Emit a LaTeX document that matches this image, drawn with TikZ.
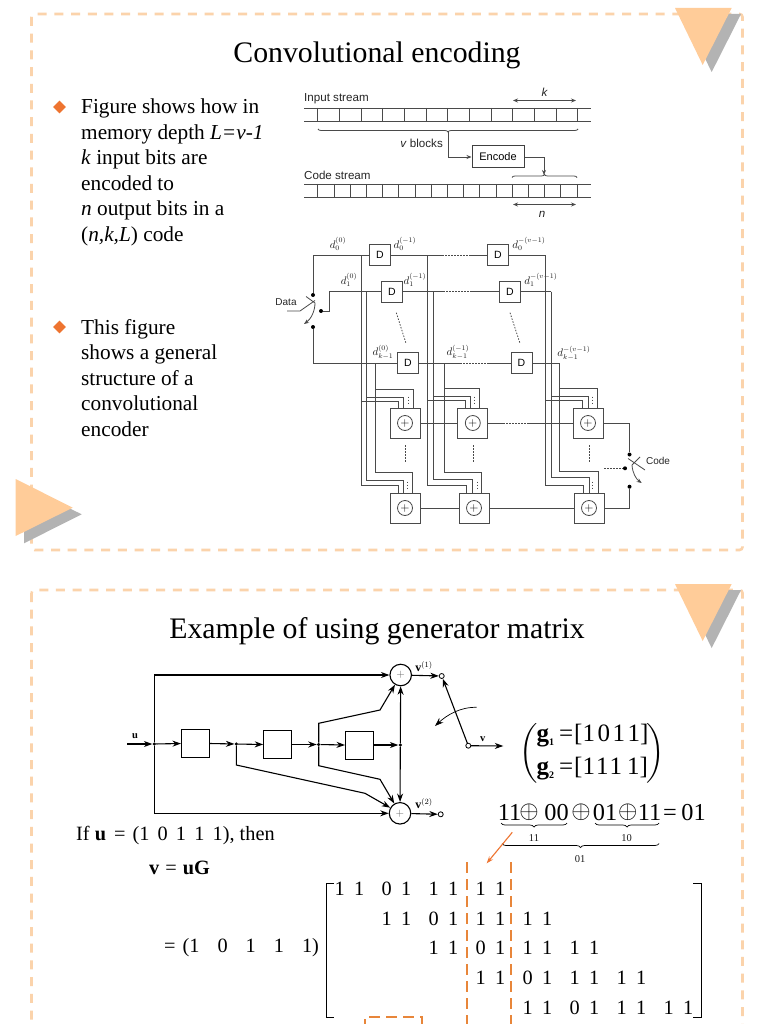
\documentclass[tikz,border=0pt]{standalone}
\usepackage{amsmath}
\usepackage{fontspec}
\setmainfont{Liberation Serif}
\setsansfont{Liberation Sans}
\usetikzlibrary{
  arrows.meta,
  decorations.pathreplacing,
  shapes.geometric
}
\definecolor{framepeach}{HTML}{FBD3AB}
\definecolor{trianglepeach}{HTML}{FFCC99}
\definecolor{shadowgrey}{HTML}{B3B3B3}
\definecolor{markorange}{HTML}{EE7430}
\definecolor{dashorange}{HTML}{E8863A}
\definecolor{wiregrey}{HTML}{4A4A4A}
\newcommand{\fsize}[1]{\fontsize{#1}{#1}\selectfont}
\newcommand{\bitpair}[2]{#1\hspace{9.4pt}#2}
\newcommand{\subnum}[1]{\raisebox{-3.5pt}{\fsize{10}#1}}
\newcommand{\xorsign}{\raisebox{2pt}{$\oplus$}}
\tikzset{
  slide frame/.style={
    draw=framepeach,
    line width=2.6pt,
    rounded corners=3pt,
    dash pattern=on 9pt off 7.7pt
  },
  slide title/.style={
    font=\fsize{29.8}
  },
  bullet mark/.style={
    diamond,
    fill=markorange,
    inner sep=0pt,
    minimum size=13pt
  },
  bullet text/.style={
    anchor=north west,
    align=left,
    inner sep=0pt,
    font=\fontsize{21.3}{25.5}\selectfont
  },
  wire/.style={
    draw=wiregrey,
    line width=0.8pt
  },
  wire arrow/.style={
    wire,
    -{Stealth[length=5pt,width=4pt]}
  },
  wire both/.style={
    wire,
    {Stealth[length=5pt,width=4pt]}-{Stealth[length=5pt,width=4pt]}
  },
  wire dots/.style={
    draw=wiregrey,
    line width=0.8pt,
    dash pattern=on 1.5pt off 1.5pt
  },
  sans label/.style={
    font=\sffamily\fsize{10},
    text=black!85,
    inner sep=0pt
  },
  stream label/.style={
    font=\sffamily\fsize{11.6},
    text=black!85,
    inner sep=0pt
  },
  bit label/.style={
    font=\fsize{10.5},
    text=black!90,
    inner sep=0pt
  },
  delay box/.style={
    draw=wiregrey,
    line width=0.9pt,
    fill=white,
    minimum size=21pt,
    inner sep=0pt,
    font=\sffamily\fsize{10.5}
  },
  adder box/.style={
    draw=wiregrey,
    line width=0.9pt,
    fill=white,
    minimum size=30pt,
    inner sep=0pt
  },
  adder ring/.style={
    circle,
    draw=wiregrey,
    line width=0.8pt,
    minimum size=15pt,
    inner sep=0pt,
    font=\sffamily\fsize{12}
  },
  switch dot/.style={
    circle,
    fill=black,
    minimum size=4pt,
    inner sep=0pt
  },
  line tip/.style={
    draw=black,
    line width=1.1pt,
    -{Stealth[length=8.5pt,width=6pt]}
  },
  plain line/.style={
    draw=black,
    line width=0.9pt
  },
  reg box/.style={
    draw=black,
    line width=1pt,
    minimum size=28pt,
    inner sep=0pt
  },
  sum ring/.style={
    circle,
    draw=black,
    line width=1.1pt,
    minimum size=21.5pt,
    inner sep=0pt,
    text=black!60,
    font=\fsize{11}
  },
  open end/.style={
    circle,
    draw=black,
    fill=white,
    line width=0.8pt,
    minimum size=5pt,
    inner sep=0pt
  },
  math text/.style={
    font=\fsize{20.3},
    inner sep=0pt
  },
  matrix entry/.style={
    font=\fsize{20.3},
    inner sep=0pt
  },
  xor token/.style={
    font=\fsize{24.3},
    anchor=base,
    inner sep=0pt
  },
  small tag/.style={
    font=\fsize{12},
    inner sep=0pt
  },
  orange dash/.style={
    draw=dashorange,
    line width=1.5pt,
    dash pattern=on 11pt off 6pt
  }
}

\begin{document}
\begin{tikzpicture}[x=1pt,y=-1pt]

  \clip (0,0) rectangle (768,1024);
  \fill[white] (0,0) rectangle (768,1024);

  % ---------- frames ----------
  \draw[slide frame] (31.5,14) rectangle (742.5,550);
  \draw[slide frame] (31.5,590) rectangle (742.5,1060);

  \fill[shadowgrey] (683,14) -- (741,14) -- (711.7,72) -- cycle;
  \fill[trianglepeach] (675,8) -- (731.7,8) -- (702.7,65) -- cycle;
  \fill[shadowgrey] (24,486) -- (81.7,514.3) -- (24,543.3) -- cycle;
  \fill[trianglepeach] (15.7,479) -- (72.7,507.7) -- (15.7,536) -- cycle;
  \fill[shadowgrey] (683,590) -- (741,590) -- (711.7,648) -- cycle;
  \fill[trianglepeach] (675,584) -- (731.7,584) -- (702.7,641) -- cycle;

  % ---------- slide 1 text ----------
  \node[slide title] (title1) at (377,55) {Convolutional encoding};

  \node[bullet mark] (mark1) at (59.5,107) {};
  \node[bullet text] (text1) at (81,99)
    {Figure shows how in\\
     memory depth \textit{L=v-1}\\
     \textit{k} input bits are\\
     encoded to\\
     \textit{n} output bits in a\\
     (\textit{n,k,L}) code};

  \node[bullet mark] (mark2) at (59.5,327) {};
  \node[bullet text] (text2) at (81,319)
    {This figure\\
     shows a general\\
     structure of a\\
     convolutional\\
     encoder};

  % ---------- streams ----------
  \node[stream label,anchor=west] (inlabel) at (304,98.5) {Input stream};
  \draw[wire] (304,108) -- (591,108);
  \draw[wire] (304,121) -- (591,121);
  \foreach \i in {0,...,12}
    \draw[wire] ({317.7+21.67*\i},108) -- ++(0,13);

  \coordinate (karrowa) at (513,100.5);
  \coordinate (karrowb) at (576,100.5);
  \draw[wire both] (karrowa) -- (karrowb);
  \node[stream label,font=\sffamily\itshape\fsize{11.6}] (klabel) at (544.5,92) {k};

  \draw[wire,decorate,decoration={brace,mirror,amplitude=3pt}]
    (318,129) -- (578,129);
  \coordinate (intip) at (448,132);
  \node[stream label,anchor=east] (blocks) at (443,143) {\textit{v} blocks};

  \node[draw=black!75,line width=1pt,minimum width=52pt,minimum height=22pt,
    inner sep=0pt,font=\sffamily\fsize{11}] (encode) at (498,157) {Encode};
  \coordinate (codetip) at (544,175);
  \draw[wire arrow] (intip) |- (encode.west);
  \draw[wire arrow] (encode.east) -| (codetip);

  \node[stream label,anchor=west] (codelabel) at (304,175.5) {Code stream};
  \draw[wire,decorate,decoration={brace,amplitude=3pt}]
    (512,177.5) -- (577,177.5);
  \draw[wire] (304,184) -- (591,184);
  \draw[wire] (304,197) -- (591,197);
  \foreach \i in {0,...,16}
    \draw[wire] ({317.7+16.2*\i},184) -- ++(0,13);

  \coordinate (narrowa) at (513,204.5);
  \coordinate (narrowb) at (576,204.5);
  \draw[wire both] (narrowa) -- (narrowb);
  \node[stream label,font=\sffamily\itshape\fsize{11.6}] (nlabel) at (542,214) {n};

  % ---------- encoder ----------
  \node[delay box] (D00) at (380,255) {D};
  \node[delay box] (D01) at (498,255) {D};
  \node[delay box] (D10) at (392,291.5) {D};
  \node[delay box] (D11) at (510,291.5) {D};
  \node[delay box] (D20) at (408,363) {D};
  \node[delay box] (D21) at (521.5,363) {D};

  \node[sans label] (Dlabel) at (286,302) {Data};
  \node[switch dot] (sw0) at (313,295) {};
  \node[switch dot] (sw1) at (321,311) {};
  \node[switch dot] (sw2) at (313,327) {};
  \coordinate (dataleft) at (287,311);
  \coordinate (datamid) at (300,311);
  \coordinate (datatip) at (315,300.5);
  \draw[wire] (dataleft) -- (datamid) -- (datatip);
  \draw[wire arrow] (306,296.5) -- (315,303)
    .. controls (315,311) and (311,319) .. (304,324);

  \draw[wire] (sw0) |- (D00.west);
  \draw[wire] (sw1) -- (329,311) |- (D10.west);
  \draw[wire] (sw2) |- (D20.west);

  \coordinate (c1a) at (361,255);
  \coordinate (c1b) at (366.5,291.5);
  \coordinate (c1c) at (375,363);
  \coordinate (c2a) at (427.5,255);
  \coordinate (c2b) at (433.5,291.5);
  \coordinate (c2c) at (444.5,363);
  \coordinate (c3a) at (545.7,255);
  \coordinate (c3b) at (551,291.5);
  \coordinate (c3c) at (559.5,363);

  % rows between the delay boxes
  \draw[wire] (D00.east) -- (442,255);
  \draw[wire dots] (442,255) -- (470,255);
  \draw[wire] (470,255) -- (D01.west);
  \draw[wire] (D10.east) -- (443,291.5);
  \draw[wire dots] (443,291.5) -- (470,291.5);
  \draw[wire] (470,291.5) -- (D11.west);
  \draw[wire] (D20.east) -- (460,363);
  \draw[wire dots] (460,363) -- (487,363);
  \draw[wire] (487,363) -- (D21.west);
  \draw[wire] (D01.east) -- (c3a);
  \draw[wire] (D11.east) -- (c3b);
  \draw[wire] (D21.east) -- (c3c);

  \draw[wire dots] (396.3,312.7) -- (406,343.3);
  \draw[wire dots] (510,312.7) -- (520,343.3);

  \node[bit label] (la00) at (338,244) {$d_0^{(0)}$};
  \node[bit label] (la01) at (405,244) {$d_0^{(-1)}$};
  \node[bit label] (la02) at (529,244) {$d_0^{-(v-1)}$};
  \node[bit label] (la10) at (349,280) {$d_1^{(0)}$};
  \node[bit label] (la11) at (415,280) {$d_1^{(-1)}$};
  \node[bit label] (la12) at (541,280) {$d_1^{-(v-1)}$};
  \node[bit label] (la20) at (383,352) {$d_{k-1}^{(0)}$};
  \node[bit label] (la21) at (458,352) {$d_{k-1}^{(-1)}$};
  \node[bit label] (la22) at (574,353) {$d_{k-1}^{-(v-1)}$};

  % adders
  \node[adder box] (A11) at (405,423) {};
  \node[adder box] (A12) at (472.8,423) {};
  \node[adder box] (A13) at (588,423) {};
  \node[adder box] (A21) at (405,508) {};
  \node[adder box] (A22) at (474,508) {};
  \node[adder box] (A23) at (589,508) {};
  \foreach \adder in {A11,A12,A13,A21,A22,A23}
    \node[adder ring] (\adder ring) at (\adder) {$+$};

  % taps from the buses
  \foreach \adder/\a/\b/\c/\ya/\yb/\yc/\xa/\xb/\xc/\xd in {
    A11/c1a/c1b/c1c/401.7/397/389.3/-6.7/-1.7/8/3,
    A12/c2a/c2b/c2c/400.7/396.7/388.3/-7.8/-2.1/6.5/2,
    A13/c3a/c3b/c3c/400.7/396/388.3/-5.7/0.3/9.3/4.3,
    A21/c1a/c1b/c1c/485.3/480/472.7/-6.7/-1.7/7.7/2.5,
    A22/c2a/c2b/c2c/485/479.3/472.7/-7.3/-1.3/7.7/3,
    A23/c3a/c3b/c3c/485/477.7/471.7/-5.7/0.3/9.3/3.3}
  {
    \draw[wire] (\a) |- ([xshift=\xa pt]\adder.north |- 0,\ya) -- ([xshift=\xa pt]\adder.north);
    \draw[wire] (\b) |- ([xshift=\xb pt]\adder.north |- 0,\yb) -- ([xshift=\xb pt]\adder.north);
    \draw[wire] (\c) |- ([xshift=\xc pt]\adder.north |- 0,\yc) -- ([xshift=\xc pt]\adder.north);
    \draw[wire dots] ([xshift=\xd pt,yshift=11pt]\adder.north) -- ([xshift=\xd pt,yshift=2pt]\adder.north);
  }

  \draw[wire] (A11.east) -- (A12.west);
  \draw[wire] (A12.east) -- (503,423);
  \draw[wire dots] (503,423) -- (528,423);
  \draw[wire] (528,423) -- (A13.west);
  \draw[wire] (A21.east) -- (A22.west);
  \draw[wire] (A22.east) -- (A23.west);

  \foreach \x in {405.7,473,589}
    \draw[wire dots] (\x,445) -- (\x,463);

  % output switch
  \node[switch dot] (sw3) at (629.5,454.5) {};
  \node[switch dot] (sw4) at (625,468.3) {};
  \node[switch dot] (sw5) at (629.5,486.7) {};
  \draw[wire] (A13.east) -| (sw3);
  \draw[wire] (A23.east) -| (sw5);
  \draw[wire dots] (604,468.3) -- (sw4);
  \coordinate (codeend) at (645,470);
  \draw[wire] (codeend) -- (628,458.5);
  \draw[wire] (640,457) -- (632,465);
  \draw[wire arrow] (632,465) .. controls (632.5,473) and (636,479) .. (641.7,483);
  \node[sans label] (Clabel) at (658,461) {Code};

  % ---------- slide 2 ----------
  \node[slide title] (title2) at (377,631) {Example of using generator matrix};

  \node[sum ring] (add1) at (400.7,675) {$+$};
  \node[sum ring] (add2) at (400,813.3) {$+$};
  \node[reg box] (reg1) at (195.5,743.5) {};
  \node[reg box] (reg2) at (277.7,744.5) {};
  \node[reg box] (reg3) at (359.5,745) {};
  \node[switch dot,minimum size=3.5pt] (j0) at (154.3,744) {};
  \node[switch dot,minimum size=3.5pt] (j1) at (236.3,744) {};
  \node[switch dot,minimum size=3.5pt] (j2) at (318.7,744.5) {};
  \node[switch dot,minimum size=3.5pt] (j3) at (400.3,745) {};
  \node[open end] (out1) at (441.7,676) {};
  \node[open end] (out2) at (440.7,814.3) {};
  \node[open end] (swarm) at (468.3,745.7) {};
  \coordinate (uin) at (127.3,744);
  \coordinate (vout) at (503.3,746);

  \node[font=\bfseries\fsize{10.5},inner sep=0pt] (ulabel) at (135,736) {u};
  \node[small tag] (vlabel1) at (424,666.5) {$\mathbf{v}^{(1)}$};
  \node[small tag] (vlabel2) at (424,803.5) {$\mathbf{v}^{(2)}$};
  \node[font=\bfseries\fsize{10.5},inner sep=0pt] (vlabel) at (482.7,739) {v};

  \draw[line tip] (uin) -- (j0);
  \draw[line tip] (j0) -- (reg1.west);
  \draw[line tip] (reg1.east) -- (j1);
  \draw[line tip] (j1) -- (reg2.west);
  \draw[line tip] (reg2.east) -- (j2);
  \draw[line tip] (j2) -- (reg3.west);
  \draw[line tip] (reg3.east) -- (j3);
  \draw[line tip] (j0) |- (add1);
  \draw[line tip] (j0) |- (add2);
  \draw[line tip] (j3) -- (add1);
  \draw[line tip] (j3) -- (add2);
  \draw[line tip] (j1) -- (236.3,765) -- (365,793.3) -- (add2);
  \draw[line tip] (j2) -- (318.7,723.3) -- (380,710) -- (add1);
  \draw[line tip] (j2) -- (318.7,765.7) -- (380,779.3) -- (add2);
  \draw[line tip] (add1) -- (out1);
  \draw[line tip] (add2) -- (out2);
  \draw[line tip] (swarm) -- (out1);
  \draw[line tip] (swarm) -- (vout);
  \draw[line tip,line width=0.7pt] (476.7,707.3)
    .. controls (460,707) and (447,715) .. (435,726);

  % generator equations
  \node[font=\fsize{25},inner sep=0pt] (genpair) at (592.5,753)
    {$\left(\begin{array}{@{\hspace{-1.5pt}}l@{\hspace{-1.5pt}}}
       \text{\bfseries g\subnum{1}\mdseries\hspace{5pt}=\hspace{1pt}[1\hspace{2.5pt}0\hspace{2.5pt}1\hspace{2.5pt}1]}\\[8pt]
       \text{\bfseries g\subnum{2}\mdseries\hspace{5pt}=\hspace{1pt}[1\hspace{1pt}1\hspace{1pt}1\hspace{5pt}1]}
     \end{array}\right)$};

  % exclusive or
  \foreach \token/\xx [count=\n] in {
    11/509.5,\xorsign/529,00/556.5,\xorsign/581,01/605,
    \xorsign/627.7,11/649.5,=/670,01/693.5}
    \node[xor token] (xor\n) at (\xx,820) {\token};
  \draw[plain line,line width=0.7pt,decorate,decoration={brace,mirror,amplitude=4pt}]
    (501,823) -- (567,823);
  \node[bit label] (xor11) at (534,838) {11};
  \draw[plain line,line width=0.7pt,decorate,decoration={brace,mirror,amplitude=4pt}]
    (595,823) -- (659,823);
  \node[bit label] (xor10) at (626.7,838) {10};
  \draw[plain line,line width=0.7pt,decorate,decoration={brace,mirror,amplitude=4pt}]
    (502,843.5) -- (659,843.5);
  \node[bit label] (xor01) at (580,859) {01};
  \coordinate (markfrom) at (512.3,832.3);
  \coordinate (markto) at (486.7,863.3);
  \draw[draw=markorange,line width=1.1pt,-{Stealth[length=7pt,width=5pt]}] (markfrom) -- (markto);

  % product
  \node[math text,anchor=west] (iftext) at (76,836)
    {If \textbf{u}\hspace{8pt}=\hspace{7pt}(1\hspace{8.2pt}0\hspace{8.2pt}1\hspace{8.2pt}1\hspace{8.2pt}1), then};
  \node[math text,anchor=west] (vtext) at (149,868) {\textbf{v}\hspace{6pt}=\hspace{6pt}\textbf{uG}};
  \node[math text,anchor=west] (ptext) at (164,948)
    {=\hspace{7pt}(1\hspace{18pt}0\hspace{18pt}1\hspace{18pt}1\hspace{18pt}1)};

  \foreach \row/\first/\yy in {1/0/889,2/1/919,3/2/948,4/3/978,5/4/1008} {
    \foreach \bits [count=\n from 0] in {{1}{1},{0}{1},{1}{1},{1}{1}} {
      \pgfmathsetmacro{\xx}{349.5+47.0*(\first+\n)}
      \node[matrix entry] (m\row\n) at (\xx,\yy) {\expandafter\bitpair\bits};
    }
  }

  \draw[plain line,line width=0.8pt] (334,883) -- (326,883) -- (326,1017) -- (334,1017);
  \draw[plain line,line width=0.8pt] (693,883) -- (701,883) -- (701,1017) -- (693,1017);

  \draw[orange dash] (467,862) -- (467,1026);
  \draw[orange dash] (511,862) -- (511,1026);
  \draw[orange dash] (365,1030) -- (365,1017) -- (422,1017) -- (422,1030);

\end{tikzpicture}
\end{document}
